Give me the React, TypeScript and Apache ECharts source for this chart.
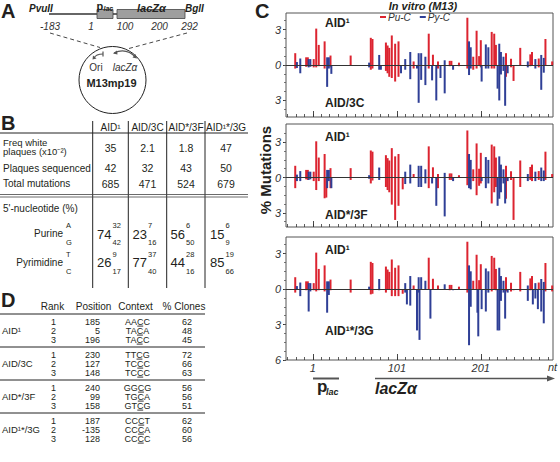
import React, { useEffect, useRef } from "react";
import * as echarts from "echarts";

// ---------- Panel C data (nt position, 5' context, % mutations) ----------
const positions = [
  -20, -18, -14, -7, -5, -4, -2, 2, 5, 8, 15, 17, 18, 20, 22, 23, 46, 68, 70, 72,
  80, 82, 88, 90, 92, 95, 99, 103, 106, 108, 111, 113, 117, 121, 125, 127, 128, 130,
  135, 139, 141, 143, 144, 148, 150, 153, 158, 164, 166, 168, 175, 185, 187, 189,
  192, 196, 197, 198, 199, 201, 202, 207, 210, 214, 217, 219, 221, 223, 225, 228,
  230, 231, 233, 237, 240, 248, 257, 260, 262, 263, 266, 269, 270, 273, 276, 278, 286,
];
const contexts = [
  "Pu", "Py", "Py", "Pu", "Pu", "Py", "Py", "Pu", "Pu", "Pu", "Pu", "Pu", "Py", "Py", "Pu", "Py", "Pu", "Py", "Pu", "Pu",
  "Py", "Py", "Pu", "Pu", "Pu", "Pu", "Pu", "Pu", "Py", "Pu", "Py", "Py", "Py", "Pu", "Py", "Py", "Py", "Py",
  "Py", "Pu", "Py", "Py", "Pu", "Py", "Pu", "Py", "Py", "Pu", "Pu", "Py", "Pu", "Pu", "Py", "Py",
  "Pu", "Pu", "Py", "Py", "Pu", "Pu", "Py", "Py", "Py", "Pu", "Pu", "Pu", "Py", "Py", "Py", "Py",
  "Py", "Pu", "Py", "Pu", "Pu", "Pu", "Py", "Pu", "Pu", "Py", "Py", "Py", "Pu", "Py", "Py", "Pu", "Pu",
];
const aid1 = [
  1.0, 0.25, 0.55, 0.65, 0.65, 0.5, 0.5, 0.5, 3.08, 1.7, 2.0, 0, 0.65, 0.65, 0.8, 0, 0.8, 0.2, 2.3, 2.2,
  0.85, 0, 1.9, 1.65, 1.45, 2.5, 1.8, 2.0, 0, 0, 0.5, 0, 1.1, 0.3, 0, 1.0, 0, 1.0,
  0.7, 2.65, 0, 0, 0.87, 0, 0.3, 0, 0.4, 0.35, 0.35, 0, 0.2, 4.0, 2.0, 1.5,
  0.7, 2.9, 0, 0, 0.75, 2.1, 0, 1.74, 1.5, 2.8, 2.65, 1.7, 0, 1.8, 1.1, 0.7,
  0, 1.0, 0, 0.53, 0, 1.45, 0.3, 0.9, 1.1, 0, 0.5, 0, 0.55, 0.85, 0.6, 2.2, 0.3,
];
const aid3C = [
  0.3, 0.25, 0.7, 0.15, 0.1, 0.2, 0.15, 0.2, 0.2, 0.1, 0.3, 0, 1.85, 0.3, 0.2, 0.75, 0, 0.2, 0.4, 0.3,
  0.4, 0.4, 0.5, 0.7, 1.0, 1.1, 1.4, 1.0, 0.7, 0, 0.4, 0, 1.2, 0.3, 0.3, 3.2, 0, 1.26,
  1.7, 0.3, 0, 1.3, 0, 3.0, 0.3, 1.1, 2.4, 0.1, 0, 0.4, 0.1, 0.3, 0.85, 0.3,
  0.4, 0.3, 0, 0, 0, 0.2, 1.4, 0.3, 0.3, 0.3, 0.3, 0, 2.0, 3.0, 0.8, 0.5,
  3.45, 1.0, 0.7, 0.2, 1.35, 0, 0.2, 0.1, 0, 0, 0.3, 0, 0.2, 2.1, 0.65, 0, 0,
];
const aid3F = [
  0.9, 0.3, 0.3, 0.15, 0.2, 0.2, 0.15, 0.3, 1.06, 0.3, 1.76, 1.7, 0.9, 0.3, 0.9, 0.9, 0.2, 0.1, 0.5, 0.25,
  0.2, 0, 0.8, 1.06, 1.25, 2.3, 3.6, 2.4, 0, 1.0, 0.55, 0, 0.5, 0, 0, 0.8, 0, 0.8,
  0.5, 0.9, 0, 0.5, 0, 2.4, 0.9, 0, 3.3, 0.2, 0.2, 0.3, 0, 0.65, 0.9, 1.0,
  0.3, 1.5, 0, 0, 0.7, 0.5, 0.3, 0.9, 0.5, 2.2, 1.25, 0.8, 2.4, 1.8, 1.25, 0.5,
  2.2, 1.8, 0.3, 0.2, 3.6, 0.8, 0.3, 0.2, 0.3, 0, 0.3, 0, 0.2, 0.3, 0.3, 0.2, 0,
];
const aid3G = [
  0.3, 0, 0.6, 0.1, 0, 1.9, 0.2, 0.1, 0.2, 0.1, 0.2, 0, 2.0, 0.5, 0.1, 0, 0.3, 0, 0.45, 0.4,
  0.1, 0, 0.3, 0, 0, 0.6, 0.6, 0.6, 0, 0.4, 0.3, 1.3, 1.4, 0, 3.5, 0.3, 4.3, 0,
  0, 0, 2.5, 0, 0, 0, 0, 0, 0, 0.1, 0, 0.1, 0, 0.3, 4.75, 1.5,
  0, 0, 2.0, 4.0, 0, 0, 1.7, 1.9, 0.3, 0.2, 0, 0.1, 3.5, 3.5, 1.0, 0.3,
  2.5, 0.2, 0.3, 0.2, 0.1, 0.2, 1.0, 0.1, 0, 1.3, 0.8, 1.7, 0, 1.9, 2.9, 0.2, 0.2,
];
const panelNames = ["AID/3C", "AID*/3F", "AID¹*/3G"];
const xMinorTicks = [-29, -19, -9, 1, 11, 21, 31, 41, 51, 61, 71, 81, 91, 101, 111, 121, 131, 141, 151, 161, 171, 181, 191, 201, 211, 221, 231, 241, 251, 261, 271, 281];
const xMajorTicks = [1, 101, 201];
const yMajorTop = [-3, 0, 3];
const yMajorBottom = [-6, -3, 0, 3];
const yMinorTop = [-3.75, -3, -2.25, -1.5, -0.75, 0, 0.75, 1.5, 2.25, 3, 3.75];
const yMinorBottom = [-6, -5.25, -4.5, -3.75, -3, -2.25, -1.5, -0.75, 0, 0.75, 1.5, 2.25, 3, 3.75];

// ---------- Panel B table ----------
const bHeaders = ["AID¹", "AID/3C", "AID*/3F", "AID¹*/3G"];
const freqWhite = ["35", "2.1", "1.8", "47"];
const plaquesSeq = ["42", "32", "43", "50"];
const totalMut = ["685", "471", "524", "679"];
const purineTotal = ["74", "23", "56", "15"];
const purineA = ["32", "7", "6", "6"];
const purineG = ["42", "16", "50", "9"];
const pyrTotal = ["26", "77", "44", "85"];
const pyrT = ["9", "37", "28", "19"];
const pyrC = ["17", "40", "16", "66"];

// ---------- Panel D table ----------
const dGroups = ["AID¹", "AID/3C", "AID*/3F", "AID¹*/3G"];
const dRanks = ["1", "2", "3"];
const dPositions = [["185", "5", "196"], ["230", "127", "148"], ["240", "99", "158"], ["187", "-135", "128"]];
const dContexts = [["AACC", "TACA", "TACC"], ["TTCG", "TCCC", "TCCC"], ["GGCG", "TGCA", "GTCG"], ["CCCT", "CCCA", "CCCC"]];
const dClones = [["62", "48", "45"], ["72", "66", "63"], ["56", "56", "51"], ["62", "60", "56"]];

const FF = "'Liberation Sans', Arial, Helvetica, sans-serif";
const RED = "#dc2430";
const BLUE = "#2f3f96";
const INK = "#231f20";

function txt(x: number, y: number, text: string, font: string, align = "left", extra: any = {}) {
  return {
    type: "text",
    x,
    y,
    silent: true,
    rotation: extra.rotation || 0,
    style: {
      text,
      font,
      fill: extra.fill || INK,
      textAlign: align,
      textVerticalAlign: extra.va || "middle",
    },
  };
}
function ln(x1: number, y1: number, x2: number, y2: number, stroke = INK, lineWidth = 1, dash?: number[]) {
  return {
    type: "line",
    silent: true,
    shape: { x1, y1, x2, y2 },
    style: { stroke, lineWidth, lineDash: dash || null },
  };
}

export default function App() {
  const ref = useRef<HTMLDivElement>(null);

  useEffect(() => {
    if (!ref.current) return;
    const chart = echarts.init(ref.current, undefined, { renderer: "svg" });
    const canvas = document.createElement("canvas");
    const c2d = canvas.getContext("2d")!;

    const grids = [
      { left: 286, top: 13, width: 267, height: 104 },
      { left: 286, top: 124, width: 267, height: 103 },
      { left: 286, top: 237, width: 267, height: 123 },
    ];
    const yRanges = [
      [-4.4, 4.4],
      [-4.2, 4.55],
      [-6, 4.4],
    ];
    const lowers = [aid3C, aid3F, aid3G];

    const xAxis: any[] = [];
    const yAxis: any[] = [];
    const series: any[] = [];
    grids.forEach((_, g) => {
      const isLast = g === 2;
      xAxis.push({
        gridIndex: g, type: "value", min: -31, max: 287, position: "bottom",
        axisLine: { show: false, onZero: false }, splitLine: { show: false },
        axisTick: { show: true, inside: true, length: 3, customValues: xMinorTicks, lineStyle: { color: "#333", width: 0.8 } },
        axisLabel: { show: false },
      });
      xAxis.push({
        gridIndex: g, type: "value", min: -31, max: 287, position: "bottom",
        axisLine: { show: false, onZero: false }, splitLine: { show: false },
        axisTick: { show: true, inside: true, length: 6, customValues: xMajorTicks, lineStyle: { color: "#333", width: 0.9 } },
        axisLabel: {
          show: isLast, customValues: xMajorTicks, margin: 2,
          fontStyle: "italic", fontSize: 11, color: "#333", fontFamily: FF,
        },
      });
      const [mn, mx] = yRanges[g];
      yAxis.push({
        gridIndex: g, type: "value", min: mn, max: mx, position: "left",
        axisLine: { show: false, onZero: false }, splitLine: { show: false },
        axisTick: { show: true, inside: false, length: 3, customValues: isLast ? yMajorBottom : yMajorTop, lineStyle: { color: "#333" } },
        axisLabel: {
          customValues: isLast ? yMajorBottom : yMajorTop, margin: 5,
          formatter: (v: number) => String(Math.abs(Math.round(v))),
          fontStyle: "italic", fontSize: 11, color: "#333", fontFamily: FF,
        },
      });
      yAxis.push({
        gridIndex: g, type: "value", min: mn, max: mx, position: "left",
        axisLine: { show: false, onZero: false }, splitLine: { show: false },
        axisTick: { show: true, inside: false, length: 2, customValues: isLast ? yMinorBottom : yMinorTop, lineStyle: { color: "#555", width: 0.8 } },
        axisLabel: { show: false },
      });
      const lower = lowers[g];
      (["Pu", "Py"] as const).forEach((ctx) => {
        const data: number[][] = [];
        positions.forEach((p, i) => {
          if (contexts[i] !== ctx) return;
          if (aid1[i] > 0) data.push([p, aid1[i]]);
          if (lower[i] > 0) data.push([p, -lower[i]]);
        });
        const s: any = {
          type: "bar",
          name: ctx === "Pu" ? "Pu-C" : "Py-C",
          xAxisIndex: 2 * g,
          yAxisIndex: 2 * g,
          data,
          barWidth: 2,
          barGap: "-100%",
          silent: true,
          itemStyle: { color: ctx === "Pu" ? RED : BLUE },
        };
        if (ctx === "Py") {
          s.markLine = {
            silent: true, symbol: ["none", "none"], label: { show: false },
            lineStyle: { color: "#333", width: 1, type: "solid" },
            data: [{ yAxis: 0 }],
          };
        }
        series.push(s);
      });
    });

    const g: any[] = [];
    // ---------------- Panel A ----------------
    g.push(txt(1, 11, "A", `bold 20px ${FF}`));
    g.push(txt(29, 8, "PvuII", `italic bold 10px ${FF}`));
    g.push(ln(49, 14, 97, 14, "#333", 1.5));
    g.push({ type: "rect", silent: true, shape: { x: 97, y: 9.5, width: 16, height: 9 }, style: { fill: "#9e9e9e", stroke: "#444", lineWidth: 0.8 } });
    g.push(ln(113, 14, 117, 14, "#333", 1.5));
    g.push({ type: "rect", silent: true, shape: { x: 117, y: 9.5, width: 68, height: 9 }, style: { fill: "#9e9e9e", stroke: "#444", lineWidth: 0.8 } });
    g.push(txt(96.5, 5.5, "p", `bold 11px ${FF}`));
    g.push(txt(103.5, 8, "lac", `italic bold 7px ${FF}`));
    g.push(txt(137, 8, "lacZα", `italic bold 11px ${FF}`));
    g.push(txt(185, 8, "BglI", `italic bold 10px ${FF}`));
    g.push(txt(40, 26, "-183", `italic 10px ${FF}`, "left", { fill: "#333" }));
    g.push(txt(91, 26, "1", `italic 10px ${FF}`, "center", { fill: "#333" }));
    g.push(txt(125, 26, "100", `italic 10px ${FF}`, "center", { fill: "#333" }));
    g.push(txt(159.5, 26, "200", `italic 10px ${FF}`, "center", { fill: "#333" }));
    g.push(txt(189.5, 26, "292", `italic 10px ${FF}`, "center", { fill: "#333" }));
    g.push(ln(50, 33, 100, 47.5, "#333", 0.9, [4, 3]));
    g.push(ln(187, 33, 127, 49, "#333", 0.9, [4, 3]));
    g.push({ type: "circle", silent: true, shape: { cx: 112.5, cy: 80, r: 33.5 }, style: { fill: "none", stroke: "#222", lineWidth: 1 } });
    g.push({ type: "bezierCurve", silent: true, shape: { x1: 94, y1: 58, x2: 103, y2: 54, cpx1: 96, cpy1: 54 }, style: { fill: "none", stroke: "#555", lineWidth: 1.2 } });
    g.push(ln(103, 51.5, 103, 56.5, "#555", 1.2));
    g.push({ type: "polygon", silent: true, shape: { points: [[92.5, 59.5], [93, 55.5], [96.5, 58.5]] }, style: { fill: "#555" } });
    g.push({ type: "bezierCurve", silent: true, shape: { x1: 114, y1: 53, x2: 136, y2: 57.5, cpx1: 126, cpy1: 47 }, style: { fill: "none", stroke: "#555", lineWidth: 1.2 } });
    g.push({ type: "polygon", silent: true, shape: { points: [[113, 53.5], [117, 50.5], [117.5, 54.5]] }, style: { fill: "#555" } });
    g.push({ type: "polygon", silent: true, shape: { points: [[137, 58.5], [132.5, 57.5], [135.5, 54]] }, style: { fill: "#555" } });
    g.push(txt(96, 67.5, "Ori", `10px ${FF}`, "center", { fill: "#333" }));
    g.push(txt(125, 67.5, "lacZα", `italic 10px ${FF}`, "center", { fill: "#333" }));
    g.push(txt(111.5, 82.5, "M13mp19", `bold 11px ${FF}`, "center"));

    // ---------------- Panel B ----------------
    const colX = [92.7, 128.3, 166.7, 205];
    const colC = [110.5, 147.5, 186, 226];
    const smallX = [112.5, 148, 186, 225.5];
    g.push(txt(1, 122.5, "B", `bold 20px ${FF}`));
    colX.forEach((x) => g.push(ln(x, 121, x, 288, "#222", 1)));
    g.push(ln(0, 133, 248, 133, "#222", 1));
    bHeaders.forEach((h, i) => g.push(txt(colC[i], 127.5, h, `10px ${FF}`, "center")));
    g.push(txt(3, 142, "Freq white", `9.5px ${FF}`));
    g.push(txt(3, 151.5, "plaques (x10⁻²)", `9.5px ${FF}`));
    g.push(txt(3, 168, "Plaques sequenced", `10px ${FF}`));
    g.push(txt(3, 183.5, "Total mutations", `10px ${FF}`));
    freqWhite.forEach((v, i) => g.push(txt(colC[i], 147.5, v, `10.5px ${FF}`, "center")));
    plaquesSeq.forEach((v, i) => g.push(txt(colC[i], 168, v, `10.5px ${FF}`, "center")));
    totalMut.forEach((v, i) => g.push(txt(colC[i], 183.5, v, `10.5px ${FF}`, "center")));
    g.push(ln(0, 194.5, 248, 194.5, "#444", 0.8));
    g.push(ln(0, 197, 248, 197, "#444", 0.8));
    g.push(txt(3, 208.5, "5'-nucleotide (%)", `10px ${FF}`));
    g.push(txt(63, 233.5, "Purine", `10px ${FF}`, "right"));
    g.push(txt(66, 225.5, "A", `7.5px ${FF}`));
    g.push(txt(66, 242.5, "G", `7.5px ${FF}`));
    g.push(txt(63, 262, "Pyrimidine", `10px ${FF}`, "right"));
    g.push(txt(66, 254, "T", `7.5px ${FF}`));
    g.push(txt(66, 271.5, "C", `7.5px ${FF}`));
    purineTotal.forEach((v, i) => {
      g.push(txt(smallX[i] - 1, 234, v, `13px ${FF}`, "right"));
      g.push(txt(smallX[i], 225.5, purineA[i], `7.5px ${FF}`));
      g.push(txt(smallX[i], 242.5, purineG[i], `7.5px ${FF}`));
    });
    pyrTotal.forEach((v, i) => {
      g.push(txt(smallX[i] - 1, 262.5, v, `13px ${FF}`, "right"));
      g.push(txt(smallX[i], 254, pyrT[i], `7.5px ${FF}`));
      g.push(txt(smallX[i], 271.5, pyrC[i], `7.5px ${FF}`));
    });

    // ---------------- Panel D ----------------
    g.push(txt(1, 300, "D", `bold 20px ${FF}`));
    g.push(txt(52.5, 306.5, "Rank", `10px ${FF}`, "center"));
    g.push(txt(93.5, 306.5, "Position", `10px ${FF}`, "center"));
    g.push(txt(135.5, 306.5, "Context", `10px ${FF}`, "center"));
    g.push(txt(184, 306.5, "% Clones", `10px ${FF}`, "center"));
    g.push(ln(0, 314, 205, 314, "#222", 1));
    const dFont = `9px ${FF}`;
    c2d.font = "9px 'Liberation Sans', Arial, sans-serif";
    dGroups.forEach((name, gi) => {
      const rowY = (r: number) => 321.5 + 33 * gi + 9 * r;
      if (gi > 0) g.push(ln(0, 314 + 33 * gi, 205, 314 + 33 * gi, "#222", 1));
      g.push(txt(2, rowY(1), name, `9.5px ${FF}`));
      dRanks.forEach((rk, r) => {
        const y = rowY(r);
        g.push(txt(53.5, y, rk, dFont, "center"));
        g.push(txt(100, y, dPositions[gi][r], dFont, "right"));
        const s = dContexts[gi][r];
        g.push(txt(137.5, y, s, dFont, "center"));
        const total = c2d.measureText(s).width;
        const start = 137.5 - total / 2;
        const a = start + c2d.measureText(s.slice(0, 2)).width;
        const b = start + c2d.measureText(s.slice(0, 3)).width;
        g.push(ln(a + 0.3, y + 4.6, b - 0.3, y + 4.6, INK, 0.9));
        g.push(txt(192, y, dClones[gi][r], dFont, "right"));
      });
    });

    // ---------------- Panel C annotations ----------------
    g.push(txt(255, 10.5, "C", `bold 20px ${FF}`));
    g.push(txt(423, 5.5, "In vitro (M13)", `italic bold 11px ${FF}`, "center"));
    [23, 136.5, 250].forEach((y) => g.push(txt(325, y, "AID¹", `bold 12px ${FF}`)));
    g.push(txt(325, 103, panelNames[0], `bold 12px ${FF}`));
    g.push(txt(325, 215, panelNames[1], `bold 12px ${FF}`));
    g.push(txt(325, 331, panelNames[2], `bold 12px ${FF}`));
    g.push(txt(265, 170, "% Mutations", `bold 15px ${FF}`, "center", { rotation: Math.PI / 2 }));
    g.push(txt(548, 367, "nt", `italic 11px ${FF}`, "left", { fill: "#333" }));
    g.push(ln(313, 378.5, 339, 378.5, "#555", 2));
    g.push(txt(317, 386, "p", `bold 17px ${FF}`));
    g.push(txt(326, 391.5, "lac", `italic bold 9px ${FF}`));
    g.push(ln(375, 378.5, 548, 378.5, "#555", 1.5));
    g.push({ type: "polygon", silent: true, shape: { points: [[555, 378.5], [547, 375.5], [547, 381.5]] }, style: { fill: "#555" } });
    g.push(txt(375, 388.5, "lacZα", `italic bold 16px ${FF}`));

    chart.setOption({
      animation: false,
      backgroundColor: "#ffffff",
      textStyle: { fontFamily: FF },
      legend: {
        data: ["Pu-C", "Py-C"],
        left: 380,
        top: 12,
        padding: 0,
        icon: "rect",
        itemWidth: 6,
        itemHeight: 2,
        itemGap: 9,
        selectedMode: false,
        textStyle: { fontStyle: "italic", fontSize: 10, color: "#333", fontFamily: FF, padding: [0, 0, 0, -3] },
      },
      grid: grids.map((gr) => ({ ...gr, show: true, borderColor: "#555", borderWidth: 1, backgroundColor: "transparent" })),
      xAxis,
      yAxis,
      series,
      graphic: { elements: g },
    });
    return () => chart.dispose();
  }, []);

  return (
    <div
      ref={ref}
      style={{ position: "fixed", left: 0, top: 0, width: 560, height: 462, background: "#fff" }}
    />
  );
}
